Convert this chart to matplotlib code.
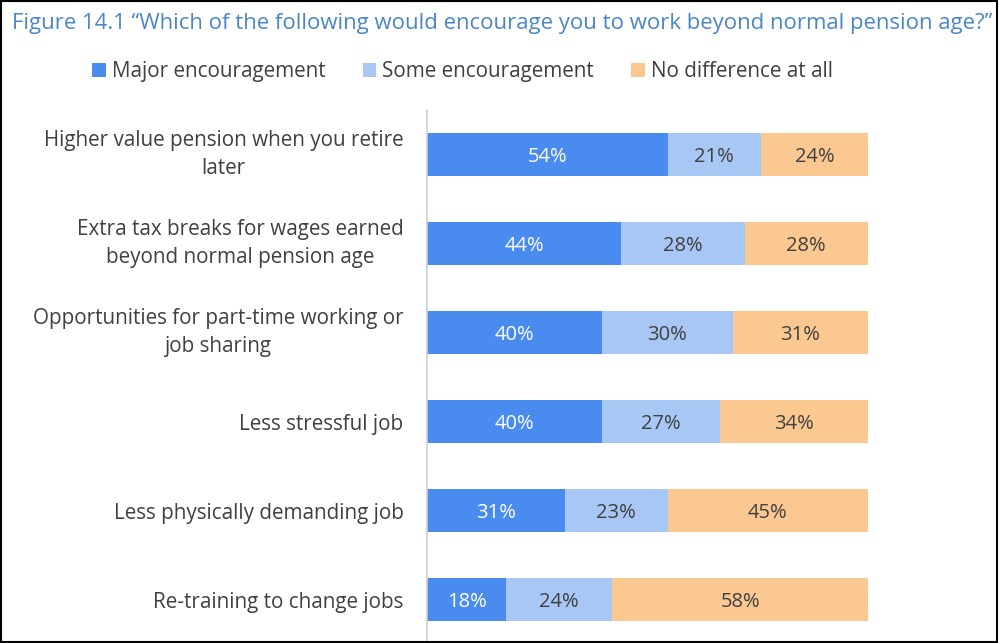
import matplotlib
matplotlib.use("Agg")
import matplotlib.pyplot as plt
import numpy as np
from matplotlib.patches import Rectangle

plt.rcParams['font.family'] = ['Open Sans', 'DejaVu Sans']

categories = [
    "Higher value pension when you retire\nlater",
    "Extra tax breaks for wages earned\nbeyond normal pension age",
    "Opportunities for part-time working or\njob sharing",
    "Less stressful job",
    "Less physically demanding job",
    "Re-training to change jobs",
]
series_names = ["Major encouragement", "Some encouragement", "No difference at all"]
major = [54, 44, 40, 40, 31, 18]
some = [21, 28, 30, 27, 23, 24]
nodiff = [24, 28, 31, 34, 45, 58]
title = "Figure 14.1 \u201cWhich of the following would encourage you to work beyond normal pension age?\u201d"

colors = ["#4A8BEF", "#A8C7F4", "#FBC892"]
text_colors = ["white", "#404040", "#404040"]

fig = plt.figure(figsize=(10, 6.43), dpi=100)
ax = fig.add_axes([0.427, -0.002, 0.441, 0.831])

data = np.array([major, some, nodiff], dtype=float)
totals = data.sum(axis=0)
frac = data / totals
y = np.arange(len(categories))
left = np.zeros(len(categories))
for i, name in enumerate(series_names):
    bars = ax.barh(y, frac[i], left=left, height=0.485, color=colors[i], label=name)
    for j, b in enumerate(bars):
        ax.text(left[j] + frac[i][j] / 2, y[j], f"{int(data[i][j])}%", ha='center',
                va='center_baseline', color=text_colors[i], fontsize=14.5)
    left += frac[i]

ax.set_xlim(0, 1)
ax.set_ylim(len(categories) - 0.5, -0.5)
ax.set_yticks(y)
ax.set_yticklabels(categories, fontsize=14.9, color="#404040")
for lab, cat in zip(ax.get_yticklabels(), categories):
    lab.set_multialignment('center')
    lab.set_linespacing(1.45)
    if "\n" in cat:
        lab.set_verticalalignment('center')
ax.tick_params(axis='y', length=0, pad=17)
ax.set_xticks([])
for s in ['top', 'right', 'bottom']:
    ax.spines[s].set_visible(False)
ax.spines['left'].set_color('#d0d0d0')
ax.spines['left'].set_linewidth(1.2)

fig.text(0.012, 0.963, title, fontsize=15.9, color="#4A86C8", ha='left', va='center')

leg = fig.legend(loc='center', bbox_to_anchor=(0.4625, 0.889), ncol=3, frameon=False,
                 fontsize=14.9, handlelength=0.65, handleheight=0.65, handletextpad=0.3,
                 columnspacing=1.8)
for t in leg.get_texts():
    t.set_color("#404040")

fig.patches.append(Rectangle((0.0005, 0.002), 0.996, 0.996, transform=fig.transFigure,
                             fill=False, edgecolor='black', linewidth=1.5, zorder=10))

fig.savefig("out.png", dpi=100)
